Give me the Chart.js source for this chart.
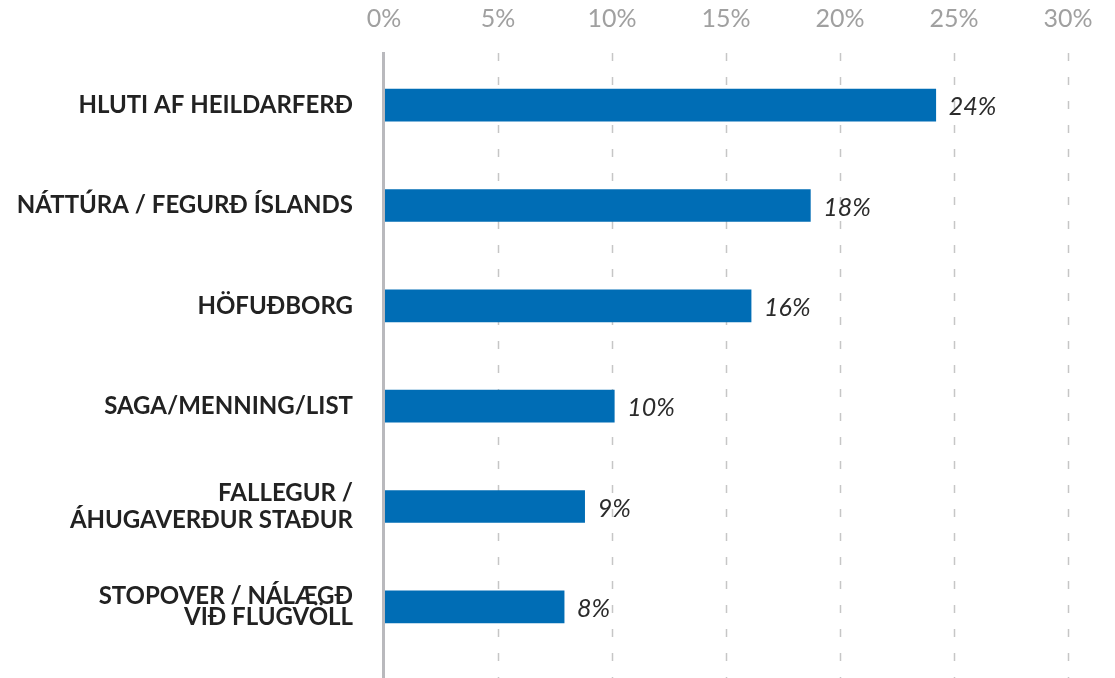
<!DOCTYPE html>
<html>
<head>
<meta charset="utf-8">
<script src="https://cdn.jsdelivr.net/npm/chart.js@4.4.1/dist/chart.umd.min.js"></script>
<style>
  html, body { margin: 0; padding: 0; background: #fff; }
  #wrap { width: 1115px; height: 678px; position: relative; }
</style>
</head>
<body>
<div id="wrap"><canvas id="mycanvas"></canvas></div>
<script>
var categories = [
  'HLUTI AF HEILDARFERÐ',
  'NÁTTÚRA / FEGURÐ ÍSLANDS',
  'HÖFUÐBORG',
  'SAGA/MENNING/LIST',
  ['FALLEGUR /', 'ÁHUGAVERÐUR STAÐUR'],
  ['STOPOVER / NÁLÆGÐ', 'VIÐ FLUGVÖLL']
];
var shares = [24.2, 18.7, 16.1, 10.1, 8.8, 7.9];
var shareLabels = ['24%', '18%', '16%', '10%', '9%', '8%'];
var xTicks = [0, 5, 10, 15, 20, 25, 30];

// dashed gridlines + solid axis line, running to the bottom edge
var gridPlugin = {
  id: 'gridLines',
  beforeDatasetsDraw: function(chart) {
    var ctx = chart.ctx, x = chart.scales.x, area = chart.chartArea;
    ctx.save();
    ctx.strokeStyle = '#c6c6c6';
    ctx.lineWidth = 1.5;
    ctx.setLineDash([8, 16]);
    for (var i = 1; i < xTicks.length; i++) {
      var px = Math.round(x.getPixelForValue(xTicks[i])) + 0.5;
      ctx.beginPath();
      ctx.moveTo(px, area.top - 2);
      ctx.lineTo(px, chart.height);
      ctx.stroke();
    }
    ctx.restore();
  },
  afterDatasetsDraw: function(chart) {
    var ctx = chart.ctx, x = chart.scales.x, area = chart.chartArea;
    ctx.save();
    ctx.strokeStyle = '#b9b9bd';
    ctx.lineWidth = 3;
    var px = x.getPixelForValue(0) - 0.5;
    ctx.beginPath();
    ctx.moveTo(px, area.top - 3);
    ctx.lineTo(px, chart.height);
    ctx.stroke();

    // value labels
    ctx.fillStyle = '#2b2b2b';
    ctx.font = 'italic 25px Lato';
    ctx.textBaseline = 'middle';
    chart.getDatasetMeta(0).data.forEach(function(bar, i) {
      ctx.fillText(shareLabels[i], bar.x + 13, bar.y + 2);
    });
    ctx.restore();
  }
};

var ctx = document.getElementById('mycanvas');
new Chart(ctx, {
  type: 'bar',
  data: {
    labels: categories,
    datasets: [{
      data: shares,
      backgroundColor: '#006db5',
      barThickness: 32
    }]
  },
  options: {
    indexAxis: 'y',
    responsive: true,
    maintainAspectRatio: false,
    animation: false,
    layout: { padding: { left: 0, right: 47, top: 0, bottom: 21 } },
    plugins: { legend: { display: false }, tooltip: { enabled: false } },
    scales: {
      x: {
        position: 'top',
        min: 0,
        max: 30,
        afterBuildTicks: function(axis) {
          axis.ticks = xTicks.map(function(v) { return { value: v }; });
        },
        afterFit: function(axis) { axis.height = 55; },
        grid: { display: false },
        border: { display: false },
        ticks: {
          color: '#a0a0a0',
          font: { family: 'Lato', size: 25 },
          padding: 13,
          callback: function(v) { return v + '%'; }
        }
      },
      y: {
        afterFit: function(axis) {
          axis.width = 384;
          axis.paddingTop = 0;
          axis.paddingBottom = 0;
        },
        grid: { display: false },
        border: { display: false },
        ticks: {
          color: '#222',
          padding: 23,
          font: function(c) {
            var lh = c.index === 4 ? '27px' : (c.index === 5 ? '21px' : 1.2);
            return { family: 'Lato', weight: 'bold', size: 24, lineHeight: lh };
          }
        }
      }
    }
  },
  plugins: [gridPlugin]
});
</script>
</body>
</html>
